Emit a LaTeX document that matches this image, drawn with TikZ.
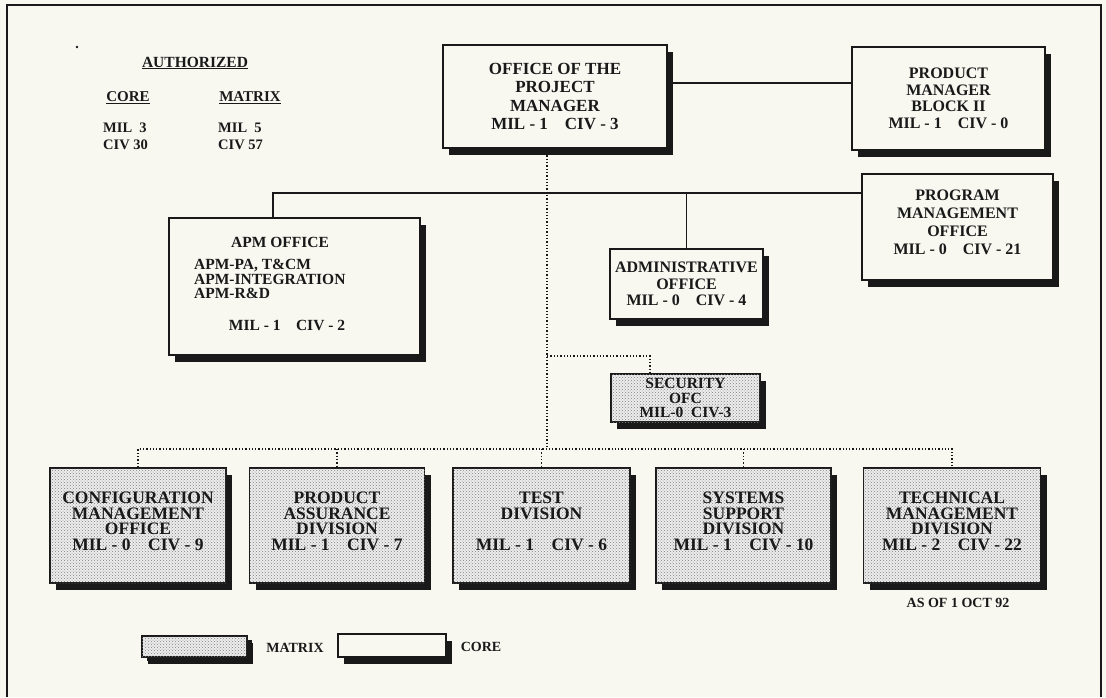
\documentclass[tikz,border=0pt]{standalone}
\usepackage{fontspec}
\setmainfont{Liberation Serif}
\usetikzlibrary{shadows,patterns}
\definecolor{paper}{RGB}{248,248,241}
\definecolor{ink}{RGB}{25,25,25}
\tikzset{
  box/.style={draw=ink, line width=1.6pt, fill=paper, align=center, inner sep=0pt, text=ink,
    drop shadow={shadow xshift=6pt, shadow yshift=-7pt, fill=ink, opacity=1}},
  corebox/.style={box},
  matrixbox/.style={box, fill=black!7, postaction={pattern=crosshatch dots, pattern color=black!50}},
  solidlink/.style={draw=ink, line width=1.3pt},
  dotlink/.style={draw=ink, line width=1.3pt, dotted},
  lbl/.style={text=ink, inner sep=0pt, align=center},
  topf/.style={font=\bfseries\fontsize{16.5}{17.5}\selectfont},
  botf/.style={font=\bfseries\fontsize{17.5}{15.5}\selectfont, text depth=9pt},
}
\begin{document}
\begin{tikzpicture}[x=1pt,y=-1pt]
\useasboundingbox (0,0) rectangle (1106,697);
\fill[paper] (0,0) rectangle (1106,697);
\draw[ink, line width=1.8pt] (7,697) -- (7,5) -- (1101,5) -- (1101,697);

% authorized block
\fill[ink] (77,47) circle (1.3);
\node[lbl, font=\bfseries\fontsize{15.5}{17}\selectfont] (auth) at (195,63) {\underline{AUTHORIZED}};
\node[lbl, font=\bfseries\fontsize{15}{17}\selectfont] (coreh) at (128,98) {\underline{CORE}};
\node[lbl, font=\bfseries\fontsize{15}{17}\selectfont] (math) at (250,98) {\underline{MATRIX}};
\node[lbl, anchor=west, align=left, font=\bfseries\fontsize{14.5}{17}\selectfont] (coren) at (103,136) {MIL\ \ 3\\CIV 30};
\node[lbl, anchor=west, align=left, font=\bfseries\fontsize{14.5}{17}\selectfont] (matn) at (218,136) {MIL\ \ 5\\CIV 57};

% top boxes
\node[corebox, font=\bfseries\fontsize{17}{18.5}\selectfont, minimum width=224pt, minimum height=103pt] (pm) at (555,96.5)
  {OFFICE OF THE\\PROJECT\\MANAGER\\MIL - 1\quad CIV - 3};
\node[corebox, font=\bfseries\fontsize{16}{16.5}\selectfont, minimum width=193pt, minimum height=103pt] (pb) at (948.5,98.5)
  {PRODUCT\\MANAGER\\BLOCK II\\MIL - 1\quad CIV - 0};
\node[corebox, minimum width=191pt, minimum height=106pt] (pmo) at (957.5,227) {};
\node[lbl, font=\bfseries\fontsize{16}{18}\selectfont] (pmot) at (957.5,222)
  {PROGRAM\\MANAGEMENT\\OFFICE\\MIL - 0\quad CIV - 21};

\node[corebox, minimum width=251pt, minimum height=137pt] (apm) at (294.5,286.5) {};
\node[lbl, font=\bfseries\fontsize{15.5}{17}\selectfont] (apmh) at (280,242) {APM OFFICE};
\node[lbl, anchor=west, align=left, font=\bfseries\fontsize{15.5}{14.5}\selectfont] (apml) at (194,279)
  {APM-PA, T\&CM\\APM-INTEGRATION\\APM-R\&D};
\node[lbl, font=\bfseries\fontsize{15.5}{17}\selectfont] (apmm) at (287,325) {MIL - 1\quad CIV - 2};

\node[corebox, font=\bfseries\fontsize{16}{16.5}\selectfont, minimum width=153pt, minimum height=70pt] (adm) at (686.5,284)
  {ADMINISTRATIVE\\OFFICE\\MIL - 0\quad CIV - 4};

\node[matrixbox, font=\bfseries\fontsize{15.5}{14.5}\selectfont, minimum width=149pt, minimum height=48pt] (sec) at (685.5,398)
  {SECURITY\\OFC\\MIL-0\ \ CIV-3};

% bottom boxes
\node[matrixbox, botf, minimum width=176pt, minimum height=115pt] (cm) at (138,525.5)
  {CONFIGURATION\\MANAGEMENT\\OFFICE\\MIL - 0\quad CIV - 9};
\node[matrixbox, botf, minimum width=175pt, minimum height=115pt] (pa) at (337,525.5)
  {PRODUCT\\ASSURANCE\\DIVISION\\MIL - 1\quad CIV - 7};
\node[matrixbox, botf, minimum width=177pt, minimum height=115pt] (td) at (541.5,525.5)
  {TEST\\DIVISION\\[15.5pt]MIL - 1\quad CIV - 6};
\node[matrixbox, botf, minimum width=175pt, minimum height=115pt] (ss) at (743.5,525.5)
  {SYSTEMS\\SUPPORT\\DIVISION\\MIL - 1\quad CIV - 10};
\node[matrixbox, botf, minimum width=177pt, minimum height=115pt] (tm) at (952,525.5)
  {TECHNICAL\\MANAGEMENT\\DIVISION\\MIL - 2\quad CIV - 22};
\node[lbl, font=\bfseries\fontsize{14}{16}\selectfont] (asof) at (958,603) {AS OF 1 OCT 92};

% legend
\node[matrixbox, minimum width=105pt, minimum height=21pt, drop shadow={shadow xshift=5pt, shadow yshift=-4pt, fill=ink, opacity=1}] (legm) at (194.5,646.5) {};
\node[lbl, font=\bfseries\fontsize{14}{16}\selectfont] (legmt) at (295,648) {MATRIX};
\node[corebox, minimum width=108pt, minimum height=23pt] (legc) at (392,645.5) {};
\node[lbl, font=\bfseries\fontsize{14}{16}\selectfont] (legct) at (481,647) {CORE};

% solid connectors
\draw[solidlink] ([yshift=13.5pt]pm.east) -- ([yshift=13.5pt]pm.east -| pb.west);
\coordinate (b1) at (273,193);
\draw[solidlink] (b1 |- apm.north) -- (b1) -- (b1 -| pmo.west);
\draw[solidlink] (b1 -| adm.north) -- (adm.north);

% dotted connectors
\coordinate (t) at (547,449);
\coordinate (s) at (547,356);
\coordinate (sj) at (650,356);
\draw[dotlink] (pm.south -| t) -- (t);
\draw[dotlink] (s) -- (sj) -- (sj |- sec.north);
\draw[dotlink] (cm.north) -- (cm.north |- t) -- (tm.north |- t) -- (tm.north);
\draw[dotlink] (pa.north |- t) -- (pa.north);
\draw[dotlink] (td.north |- t) -- (td.north);
\draw[dotlink] (ss.north |- t) -- (ss.north);
\end{tikzpicture}
\end{document}
